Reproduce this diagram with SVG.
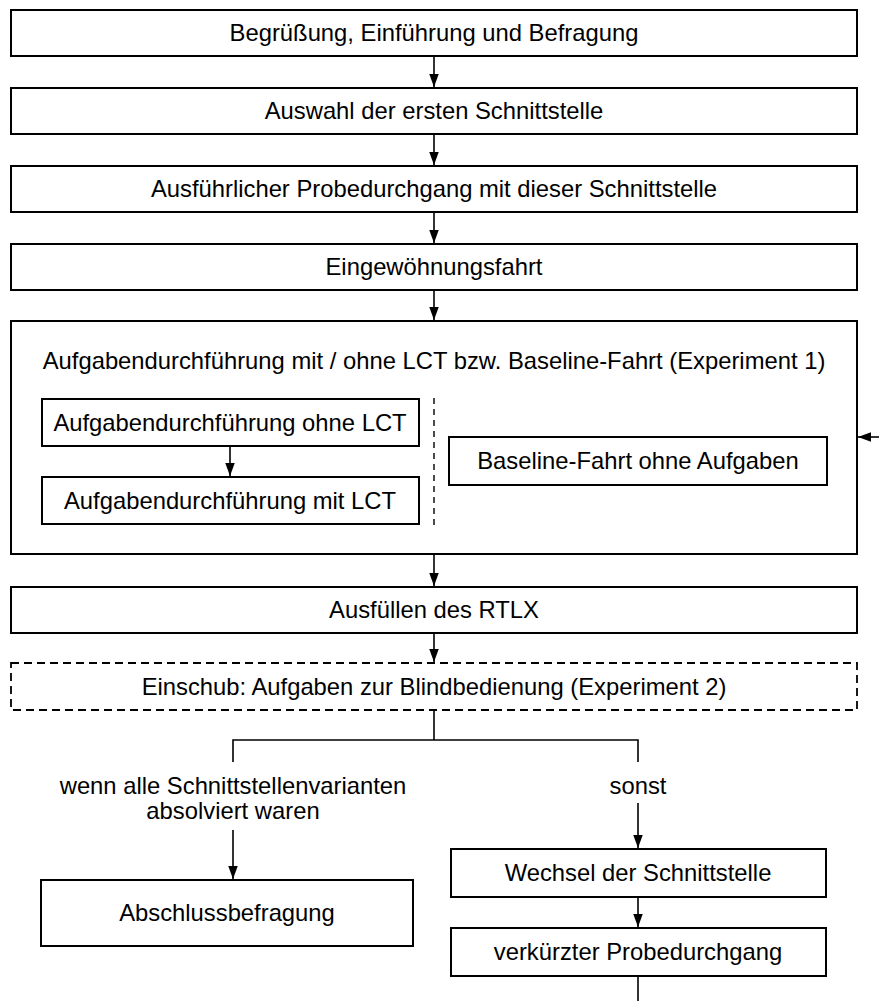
<svg xmlns="http://www.w3.org/2000/svg" width="879" height="1001" viewBox="0 0 879 1001">
<defs>
<marker id="ah" markerUnits="userSpaceOnUse" markerWidth="13" markerHeight="10" refX="13" refY="4.75" orient="auto">
<path d="M0,0 L13,4.75 L0,9.5 z" fill="#000"/>
</marker>
<style>
.b{fill:#fff;stroke:#000;stroke-width:2}
.d{fill:#fff;stroke:#000;stroke-width:1.8;stroke-dasharray:8 5}
.t{font-family:"Liberation Sans",Arial,sans-serif;font-size:23.8px;fill:#000;text-anchor:middle}
.c{fill:none;stroke:#000;stroke-width:1.6}
.a{fill:none;stroke:#000;stroke-width:1.6;marker-end:url(#ah)}
.v{fill:none;stroke:#000;stroke-width:1.4;stroke-dasharray:6 5}
</style>
</defs>
<rect width="879" height="1001" fill="#fff"/>
<g id="n1"><rect class="b" x="11" y="10" width="846" height="46"/><text class="t" x="434" y="41">Begrüßung, Einführung und Befragung</text></g>
<g id="n2"><rect class="b" x="11" y="88" width="846" height="46"/><text class="t" x="434" y="119">Auswahl der ersten Schnittstelle</text></g>
<g id="n3"><rect class="b" x="11" y="166" width="846" height="46"/><text class="t" x="434" y="197">Ausführlicher Probedurchgang mit dieser Schnittstelle</text></g>
<g id="n4"><rect class="b" x="11" y="244" width="846" height="46"/><text class="t" x="434" y="275">Eingewöhnungsfahrt</text></g>
<g id="n5"><rect class="b" x="11" y="321" width="846" height="233"/><text class="t" x="434" y="369">Aufgabendurchführung mit / ohne LCT bzw. Baseline-Fahrt (Experiment 1)</text>
<line class="v" x1="434" y1="398" x2="434" y2="530"/></g>
<g id="n5a"><rect class="b" x="42" y="399" width="377" height="47"/><text class="t" x="230" y="431">Aufgabendurchführung ohne LCT</text></g>
<g id="n5b"><rect class="b" x="42" y="477" width="377" height="47"/><text class="t" x="230" y="509">Aufgabendurchführung mit LCT</text></g>
<g id="n5c"><rect class="b" x="449" y="437" width="378" height="48"/><text class="t" x="638" y="469">Baseline-Fahrt ohne Aufgaben</text></g>
<g id="n6"><rect class="b" x="11" y="587" width="846" height="46"/><text class="t" x="434" y="618">Ausfüllen des RTLX</text></g>
<g id="n7"><rect class="d" x="11" y="663" width="846" height="47"/><text class="t" x="434" y="695">Einschub: Aufgaben zur Blindbedienung (Experiment 2)</text></g>
<g id="l1"><text class="t" x="233" y="794">wenn alle Schnittstellenvarianten</text><text class="t" x="233" y="819">absolviert waren</text></g>
<g id="l2"><text class="t" x="638" y="794">sonst</text></g>
<g id="n8"><rect class="b" x="41" y="880" width="372" height="66"/><text class="t" x="227" y="921">Abschlussbefragung</text></g>
<g id="n9"><rect class="b" x="451" y="849" width="375" height="48"/><text class="t" x="638" y="881">Wechsel der Schnittstelle</text></g>
<g id="n10"><rect class="b" x="451" y="928" width="375" height="48"/><text class="t" x="638" y="960">verkürzter Probedurchgang</text></g>
<g id="connectors">
<line class="a" x1="434" y1="56" x2="434" y2="87"/>
<line class="a" x1="434" y1="134" x2="434" y2="165"/>
<line class="a" x1="434" y1="212" x2="434" y2="243"/>
<line class="a" x1="434" y1="290" x2="434" y2="320"/>
<line class="a" x1="230" y1="446" x2="230" y2="476"/>
<line class="a" x1="879" y1="437" x2="858" y2="437"/>
<line class="a" x1="434" y1="554" x2="434" y2="586"/>
<line class="a" x1="434" y1="633" x2="434" y2="662"/>
<polyline class="c" points="434,710 434,740"/>
<polyline class="c" points="233,762 233,740 638,740 638,762"/>
<line class="a" x1="233" y1="830" x2="233" y2="879"/>
<line class="a" x1="638" y1="803" x2="638" y2="848"/>
<line class="a" x1="638" y1="897" x2="638" y2="927"/>
<line class="c" x1="638" y1="976" x2="638" y2="1001"/>
</g>
</svg>
